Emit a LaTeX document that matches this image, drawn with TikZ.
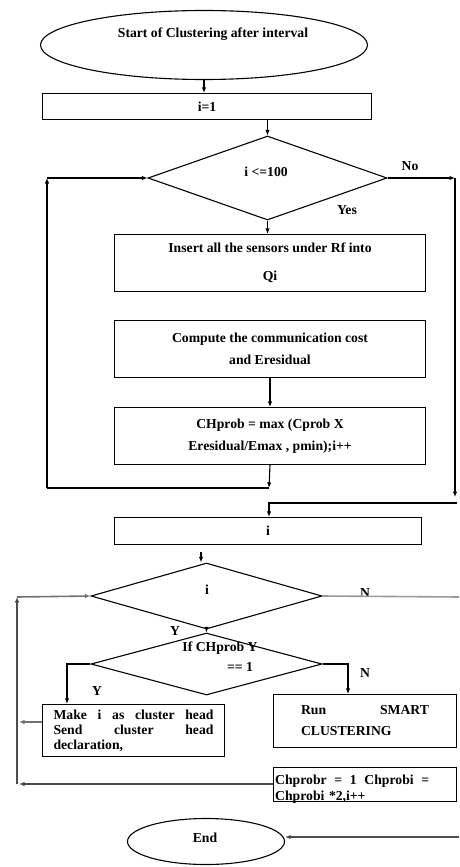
\documentclass[tikz,border=0pt]{standalone}
\usepackage{fontspec}
\setmainfont{Liberation Serif}
\usetikzlibrary{shapes.geometric,arrows.meta}
\begin{document}
\begin{tikzpicture}[x=1pt,y=-1pt,
  every node/.style={font=\bfseries\fontsize{13.7}{15}\selectfont, inner sep=0pt},
  box/.style={draw, line width=1.1pt, rectangle, align=center},
  dec/.style={draw, line width=1.1pt, diamond, align=center},
  term/.style={draw, line width=1.1pt, ellipse},
  txt/.style={align=center},
  ln/.style={line width=1.1pt},
  gln/.style={line width=1.6pt, draw=black!40},
  arr/.style={line width=1.1pt, -{Latex[length=5.5pt,width=4.5pt]}},
  garr/.style={line width=1.6pt, draw=black!40, -{Latex[length=5.5pt,width=4.5pt]}, color=black!55}
]
\useasboundingbox (0,0) rectangle (459,867);

% start
\node[term, minimum width=327, minimum height=69] (e1) at (204,45) {};
\node[txt] (e1t) at (213,34) {Start of Clustering after interval};

\node[box, minimum width=329, minimum height=26] (b1) at (207,106.5) {i=1};

\node[dec, minimum width=239, minimum height=84] (d1) at (267.5,178) {};
\node[txt] (d1t) at (266,172) {i <=100};
\node (no) at (410,166) {No};
\node (yes) at (347,210) {Yes};

\node[box, minimum width=311, minimum height=57] (b2) at (270,263)
  {Insert all the sensors under Rf into\\[13pt]Qi};
\node[box, minimum width=311, minimum height=57] (b3) at (270,349)
  {Compute the communication cost\\[7pt]and Eresidual};
\node[box, minimum width=311, minimum height=57] (b4) at (270,436)
  {CHprob = max (Cprob X\\[7pt]Eresidual/Emax , pmin);i++};

\node[box, minimum width=307, minimum height=27] (b5) at (268,531) {i};

% second loop
\node[dec, minimum width=231, minimum height=66] (d2) at (206.5,596) {};
\node[txt] (d2t) at (207,590) {i};
\node (n2) at (365,593) {N};
\node (y2) at (175,631) {Y};

\node[dec, minimum width=231, minimum height=62] (d3) at (206.5,664) {};
\node[txt] (d3t) at (220,648) {If CHprob Y};
\node[txt] (d3u) at (240,667) {== 1};
\node (y3) at (97,691) {Y};
\node (n3) at (365,673) {N};

\node[box, minimum width=182, minimum height=52, text width=160pt, align=left] (b6) at (133.5,730.5)
  {Make\hfill i\hfill as\hfill cluster\hfill head\\Send\hfill cluster\hfill head\\declaration,};
\node[box, minimum width=183, minimum height=53, text width=128pt, align=left, font=\bfseries\fontsize{13.7}{21}\selectfont] (b7) at (365,721)
  {Run\hfill SMART\\CLUSTERING};
\node[box, minimum width=183, minimum height=34] (b8) at (365,784.5) {};
\node[text width=154pt, align=left, anchor=west, font=\bfseries\fontsize{13.7}{16}\selectfont] (b8t) at (275,789)
  {Chprobr\hfill =\hfill 1\hfill Chprobi\hfill =\\Chprobi *2,i++};

\node[term, minimum width=157, minimum height=46] (e2) at (206,841.5) {};
\node[txt] (e2t) at (205,838) {End};

% connectors, first part
\draw[arr] (e1.south) -- (e1.south |- b1.north);
\draw[arr] (d1.north |- b1.south) -- (d1.north);
\draw[arr] (d1.south) -- (d1.south |- b2.north);
\draw[arr] (b3.south) -- (b4.north);

\coordinate (l1) at (269,488);
\coordinate (l2) at (47,488);
\coordinate (l3) at (47,178);
\draw[arr] (b4.south) -- (l1);
\draw[ln] (l1) -- (l2);
\draw[arr] (l2) -- (l3);
\draw[arr] (l3) -- (d1.west);

\coordinate (r1) at (455,178);
\coordinate (r2) at (455,497);
\coordinate (r3) at (457,503);
\coordinate (r4) at (269,503);
\draw[arr] (d1.east) -- (r1);
\draw[arr] (r1) -- (r2);
\draw[arr] (r3) -- (r4) -- (r4 |- b5.north);

% connectors, second part
\coordinate (t2) at (201,552);
\draw[arr] (t2) -- (t2 |- d2.north);
\coordinate (ne) at (459,597);
\draw[gln] (d2.east) -- (ne);
\coordinate (g1) at (17,597);
\coordinate (g3) at (17,784);
\draw[garr] (g1) -- (d2.west);
\draw[arr, draw=black!70] (g3) -- (g1);
\draw[arr] (d2.south) -- (d3.north);

\coordinate (y1) at (67,664);
\draw[arr] (d3.west) -- (y1) -- (y1 |- b6.north);
\coordinate (n1) at (348,664);
\draw[arr] (d3.east) -- (n1) -- (n1 |- b7.north);

\coordinate (g2) at (19,722);
\draw[garr] (g2 -| b6.west) -- (g2);
\coordinate (g4) at (19,784);
\draw[arr, draw=black!70] (g4 -| b8.west) -- (g4);

\coordinate (en) at (459,837);
\draw[arr, draw=black!70] (en) -- (en -| e2.east);
\end{tikzpicture}
\end{document}
